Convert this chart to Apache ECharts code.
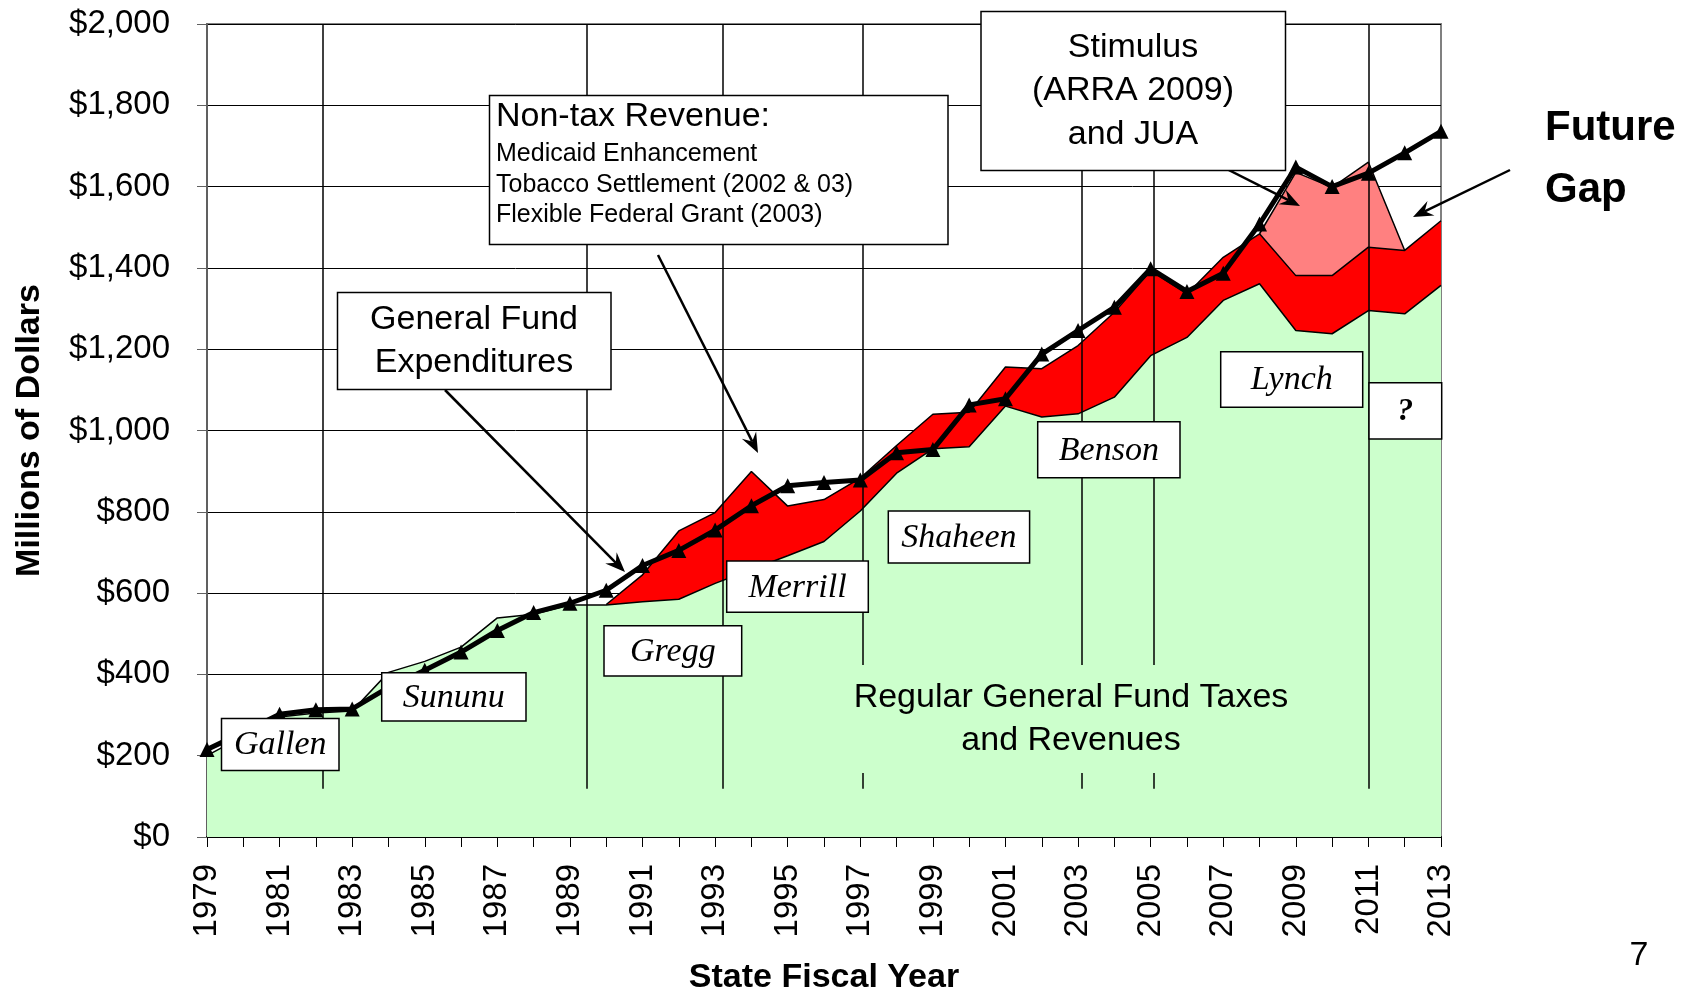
<!DOCTYPE html>
<html>
<head>
<meta charset="utf-8">
<title>General Fund Revenue vs Expenditures</title>
<script src="https://cdn.jsdelivr.net/npm/echarts@6/dist/echarts.min.js"></script>
<style>
  html, body { margin: 0; padding: 0; background: #fff; }
  #chart { width: 1694px; height: 992px; }
</style>
</head>
<body>
<div id="chart"></div>
<script>
// state fiscal years
var years = [1979, 1980, 1981, 1982, 1983, 1984, 1985, 1986, 1987, 1988,
             1989, 1990, 1991, 1992, 1993, 1994, 1995, 1996, 1997, 1998,
             1999, 2000, 2001, 2002, 2003, 2004, 2005, 2006, 2007, 2008,
             2009, 2010, 2011, 2012, 2013];

// general fund expenditures (black line)
var expenditures = [215, 258, 302, 313, 315, 368, 410, 455, 508, 552,
                    575, 607, 668, 705, 755, 815, 864, 872, 878, 945,
                    953, 1063, 1078, 1188, 1246, 1303, 1398, 1342, 1387, 1508,
                    1648, 1600, 1633, 1683, 1736];

// regular general fund taxes and revenues (green)
var regularRevenue = [200, 248, 295, 305, 310, 405, 432, 467, 539, 548,
                      571, 571, 579, 585, 624, 658, 692, 727, 802, 895,
                      955, 960, 1060, 1033, 1041, 1082, 1184, 1229, 1320, 1361,
                      1246, 1238, 1295, 1287, 1357];

// regular revenue + non-tax revenue (top of red band)
var withNonTax = [null, null, null, null, null, null, null, null, null, null,
                  null, 572, 645, 753, 798, 899, 814, 830, 883, 963,
                  1040, 1045, 1156, 1152, 1209, 1291, 1393, 1336, 1426, 1484,
                  1381, 1381, 1451, 1443, 1516];

// + stimulus (ARRA 2009) and JUA (top of pink band)
var withStimulus = [null, null, null, null, null, null, null, null, null, null,
                    null, null, null, null, null, null, null, null, null, null,
                    null, null, null, null, null, null, null, null, null, 1484,
                    1635, 1598, 1660, 1443, null];

// governor term boundaries (fiscal year position)
var termBreaks = [1982.2, 1989.45, 1993.2, 1997.07, 2003.09, 2005.08, 2011.0];

var yTicks = [0, 200, 400, 600, 800, 1000, 1200, 1400, 1600, 1800, 2000];

function pairs(arr) {
    return years.map(function (y, i) { return [y, arr[i]]; });
}

var SANS = 'Liberation Sans';
var SERIF = 'Liberation Serif';

// ---- annotation helpers ----
var graphics = [];

function box(x0, y0, x1, y1) {
    graphics.push({
        type: 'rect', z: 100,
        shape: { x: x0, y: y0, width: x1 - x0, height: y1 - y0 },
        style: { fill: '#fff', stroke: '#000', lineWidth: 1.5 }
    });
}

function label(x, y, text, font, align, lh) {
    graphics.push({
        type: 'text', z: 101, x: x, y: y,
        style: {
            text: text, font: font, fill: '#000',
            align: align || 'center', verticalAlign: 'middle',
            lineHeight: lh || undefined
        }
    });
}

function governor(x0, y0, x1, y1, name, font) {
    box(x0, y0, x1, y1);
    label((x0 + x1) / 2, (y0 + y1) / 2 + 1, name, font || 'italic 34px ' + SERIF);
}

function arrow(x1, y1, x2, y2) {
    var dx = x2 - x1, dy = y2 - y1;
    var len = Math.sqrt(dx * dx + dy * dy);
    var ux = dx / len, uy = dy / len, nx = -uy, ny = ux;
    var L = 20, W = 8, notch = 13;
    graphics.push({
        type: 'line', z: 99,
        shape: { x1: x1, y1: y1, x2: x2 - ux * notch, y2: y2 - uy * notch },
        style: { stroke: '#000', lineWidth: 2.5 }
    });
    graphics.push({
        type: 'polygon', z: 99,
        shape: { points: [
            [x2, y2],
            [x2 - ux * L + nx * W, y2 - uy * L + ny * W],
            [x2 - ux * notch, y2 - uy * notch],
            [x2 - ux * L - nx * W, y2 - uy * L - ny * W]
        ] },
        style: { fill: '#000' }
    });
}

// "Regular General Fund Taxes and Revenues" sits on a green patch that hides the term lines
graphics.push({
    type: 'rect', z: 90,
    shape: { x: 846, y: 665, width: 450, height: 108 },
    style: { fill: '#CCFFCC' }
});
label(1071, 719, 'Regular General Fund Taxes\nand Revenues', '34px ' + SANS, 'center', 43);

// governors
governor(221.5, 718.5, 339, 770.5, 'Gallen');
governor(381.7, 672.7, 526, 721, 'Sununu');
governor(604, 625.7, 741.7, 676, 'Gregg');
governor(726.7, 561, 868.3, 612.3, 'Merrill');
governor(888.3, 511, 1029.6, 563, 'Shaheen');
governor(1037.7, 421.7, 1180, 477.7, 'Benson');
governor(1220.7, 351.7, 1362.7, 407.3, 'Lynch');
governor(1369, 382.7, 1441.7, 439, '?', 'italic bold 32px ' + SERIF);

// callouts
box(337.5, 292.5, 611, 389.5);
label(474, 341, 'General Fund\nExpenditures', '34px ' + SANS, 'center', 42.5);
arrow(445, 390, 625, 572);

box(489.5, 95.5, 948, 244.5);
label(496, 117, 'Non-tax Revenue:', '34px ' + SANS, 'left');
label(496, 154, 'Medicaid Enhancement', '25px ' + SANS, 'left');
label(496, 185, 'Tobacco Settlement (2002 & 03)', '25px ' + SANS, 'left');
label(496, 215, 'Flexible Federal Grant (2003)', '25px ' + SANS, 'left');
arrow(658, 255, 758, 453);

box(981, 11.5, 1285.5, 170.5);
label(1133, 91, 'Stimulus\n(ARRA 2009)\nand JUA', '34px ' + SANS, 'center', 43.5);
arrow(1195, 153, 1300, 206);

label(1545, 128, 'Future', 'bold 42px ' + SANS, 'left');
label(1545, 190, 'Gap', 'bold 42px ' + SANS, 'left');
arrow(1510, 170, 1413, 217);

label(1639, 956, '7', '34px ' + SANS);

var chart = echarts.init(document.getElementById('chart'));
chart.setOption({
    animation: false,
    backgroundColor: '#fff',
    grid: {
        left: 207, right: 253, top: 24, bottom: 155,
        outerBoundsMode: 'none', containLabel: false,
        show: true, borderColor: '#808080', borderWidth: 2
    },
    xAxis: {
        type: 'value', min: 1979, max: 2013, interval: 1,
        axisLine: { lineStyle: { color: '#000', width: 2 } },
        axisTick: { length: 10, lineStyle: { color: '#000', width: 1 } },
        axisLabel: {
            rotate: 90, margin: 27, color: '#000',
            fontFamily: SANS, fontSize: 33,
            formatter: function (v) { return v % 2 === 1 ? String(v) : ''; }
        },
        splitLine: { show: false },
        name: 'State Fiscal Year', nameLocation: 'middle', nameGap: 124,
        nameTextStyle: { fontFamily: SANS, fontSize: 34, fontWeight: 'bold', color: '#000' }
    },
    yAxis: {
        type: 'value', min: yTicks[0], max: yTicks[yTicks.length - 1], interval: 200,
        axisLine: { show: true, lineStyle: { color: '#606060', width: 2 } },
        axisTick: { show: true, length: 10, lineStyle: { color: '#606060', width: 1 } },
        axisLabel: {
            margin: 37, color: '#000', fontFamily: SANS, fontSize: 33,
            formatter: function (v) { return '$' + v.toLocaleString('en-US'); }
        },
        splitLine: { lineStyle: { color: '#000', width: 1 } },
        name: 'Millions of Dollars', nameLocation: 'middle', nameGap: 160,
        nameTextStyle: { fontFamily: SANS, fontSize: 34, fontWeight: 'bold', color: '#000' }
    },
    series: [
        {
            name: 'Stimulus', type: 'line', z: 1, data: pairs(withStimulus),
            symbol: 'none', lineStyle: { color: '#000', width: 1.5 },
            areaStyle: { color: '#FF8080', opacity: 1 }
        },
        {
            name: 'Non-tax Revenue', type: 'line', z: 2, data: pairs(withNonTax),
            symbol: 'none', lineStyle: { color: '#000', width: 1.5 },
            areaStyle: { color: '#FF0000', opacity: 1 }
        },
        {
            name: 'Regular General Fund Taxes', type: 'line', z: 3, data: pairs(regularRevenue),
            symbol: 'none', lineStyle: { color: '#000', width: 1.5 },
            areaStyle: { color: '#CCFFCC', opacity: 1 }
        },
        {
            name: 'Terms', type: 'line', z: 4, data: [],
            markLine: {
                silent: true, symbol: 'none', z: 4,
                label: { show: false },
                lineStyle: { color: '#000', width: 1.5, type: 'solid' },
                data: termBreaks.map(function (x) {
                    return [{ coord: [x, 119] }, { coord: [x, 2000] }];
                })
            }
        },
        {
            name: 'General Fund Expenditures', type: 'line', z: 6, data: pairs(expenditures),
            symbol: 'triangle', symbolSize: 15, clip: false,
            lineStyle: { color: '#000', width: 5 },
            itemStyle: { color: '#000' }
        }
    ],
    graphic: graphics
});
</script>
</body>
</html>
